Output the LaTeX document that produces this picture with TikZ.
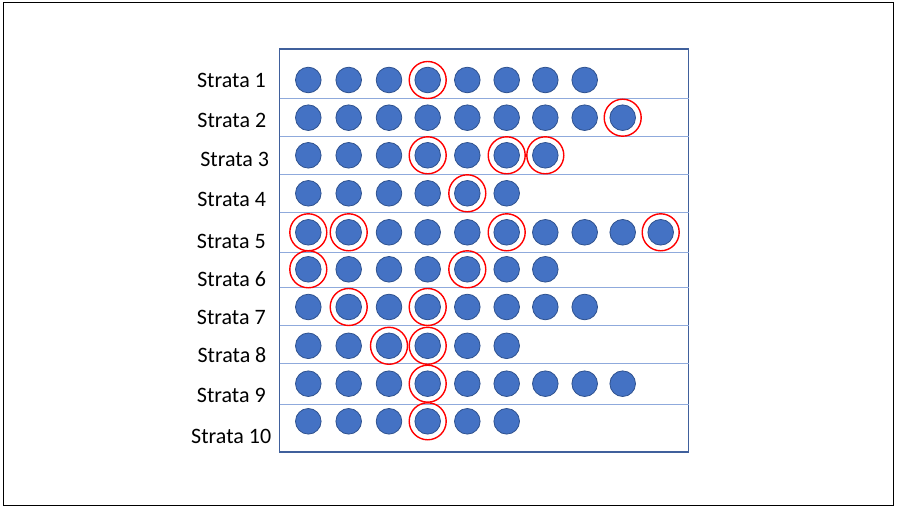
\documentclass[tikz,border=0pt]{standalone}
\usepackage{fontspec}
\setmainfont{Carlito}
\usepackage{tikz}
\usetikzlibrary{positioning,calc}
\usepackage{xcolor}
\definecolor{dotcolor}{RGB}{68, 114, 196}
\definecolor{edgecolor}{RGB}{47, 82, 143}
\definecolor{framecolor}{RGB}{64, 96, 156}
\definecolor{rulecolor}{RGB}{143, 170, 220}

\begin{document}
\begin{tikzpicture}[
    x=1pt, y=-1pt,
    frame/.style={rectangle, draw=framecolor, line width=1.6pt, inner sep=0pt, outer sep=0pt, minimum width=409pt, minimum height=403pt},
    rowline/.style={draw=rulecolor, line width=0.9pt},
    dot/.style={circle, fill=dotcolor, draw=edgecolor, line width=0.8pt, inner sep=0pt, minimum size=25.6pt},
    pick/.style={circle, draw=red, line width=1.4pt, inner sep=0pt, minimum size=37pt},
    strata/.style={anchor=base, font=\fontsize{22}{26}\selectfont},
]
    % Page and margins
    \useasboundingbox (0,0) rectangle (898,510);
    \draw[black, line width=1pt] (3,2.5) rectangle (893.3,505.7);

    % Frame round the strata
    \node[frame] (frame) at (484,250.5) {};

    % Rules between the strata
    \foreach \y in {98.3, 136.7, 174.7, 212.7, 252.3, 287.7, 325.7, 363.3, 404} {
        \draw[rowline] (frame.west |- 0,\y) -- (frame.east |- 0,\y);
    }

    % Labels
    \node[strata] (lab-1) at (231.5, 87.7) {Strata 1};
    \node[strata] (lab-2) at (231.8, 128) {Strata 2};
    \node[strata] (lab-3) at (234.7, 166.5) {Strata 3};
    \node[strata] (lab-4) at (231.7, 207) {Strata 4};
    \node[strata] (lab-5) at (231.3, 248.5) {Strata 5};
    \node[strata] (lab-6) at (231.7, 286.5) {Strata 6};
    \node[strata] (lab-7) at (231.3, 325) {Strata 7};
    \node[strata] (lab-8) at (232, 363) {Strata 8};
    \node[strata] (lab-9) at (231.3, 403) {Strata 9};
    \node[strata] (lab-10) at (231.2, 444) {Strata 10};

    % Units of each stratum, with the sampled ones ringed
    \foreach \row/\n/\y/\picks in {1/8/80/{4}, 2/9/117.7/{9}, 3/7/155.3/{4,6,7},
        4/6/193.3/{5}, 5/10/232.3/{1,2,6,10}, 6/7/269.3/{1,5}, 7/8/307/{2,4},
        8/6/345.8/{3,4}, 9/9/383.7/{4}, 10/6/421.3/{4}} {
        \foreach \col in {1,...,\n} {
            \pgfmathsetmacro{\x}{{308.3,348.7,389,427.7,467.3,506.7,545.3,584.7,622.7,660.7}[\col-1]}
            \node[dot] (dot-\row-\col) at (\x,\y) {};
        }
        \foreach \c in \picks {
            \node[pick] (pick-\row-\c) at (dot-\row-\c) {};
        }
    }
\end{tikzpicture}
\end{document}
